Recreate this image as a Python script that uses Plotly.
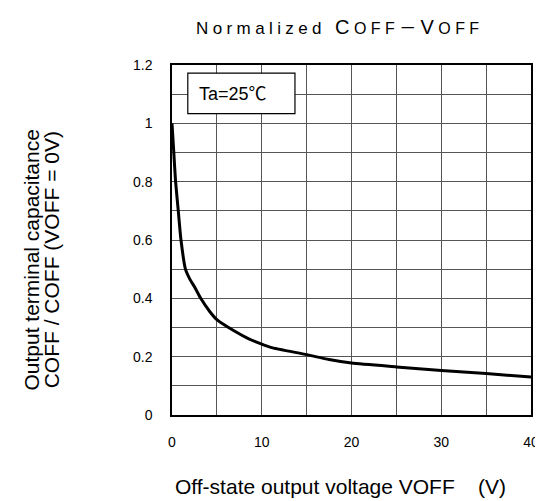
import plotly.graph_objects as go

# Data
v_off = [0, 0.2, 0.4, 0.7, 1.0, 1.5, 2.0, 2.5, 3.2, 4.2, 5, 7, 8.5, 10, 11, 15, 17.5, 20, 25, 30, 35, 40]
c_norm = [1.0, 0.9, 0.8, 0.7, 0.6, 0.5, 0.465, 0.44, 0.40, 0.355, 0.327, 0.287, 0.262, 0.243, 0.232,
          0.207, 0.19, 0.178, 0.165, 0.153, 0.142, 0.130]

FONT = "Liberation Sans, Arial, Noto Sans CJK JP, sans-serif"

fig = go.Figure()
fig.add_trace(go.Scatter(x=v_off, y=c_norm, mode="lines",
                         line=dict(color="black", width=3, shape="spline", smoothing=0.6),
                         showlegend=False, hoverinfo="skip"))

axis_common = dict(showline=True, linecolor="black", linewidth=1.5, mirror=True,
                   showgrid=True, gridcolor="#555555", gridwidth=1, zeroline=False,
                   ticks="", tickfont=dict(family=FONT, size=14, color="black"))

fig.update_xaxes(range=[0, 40], dtick=10, tick0=0, ticklabelstandoff=13,
                 minor=dict(dtick=5, showgrid=True, gridcolor="#555555", gridwidth=1),
                 **axis_common)
fig.update_yaxes(range=[0, 1.2], dtick=0.2, tick0=0, ticklabelstandoff=15,
                 minor=dict(dtick=0.1, showgrid=True, gridcolor="#555555", gridwidth=1),
                 **axis_common)

# Ta box
fig.add_shape(type="rect", xref="x", yref="y", x0=1.76, x1=13.7, y0=1.033, y1=1.172,
              line=dict(color="black", width=1.2), fillcolor="white", layer="above")
fig.add_annotation(xref="x", yref="y", x=2.75, y=1.102, xanchor="left", yanchor="middle",
                   text="Ta=25℃", showarrow=False,
                   font=dict(family=FONT, size=18, color="black"))

ls = "letter-spacing:4.4px"
title = (f'<span style="{ls}">Normalized <span style="font-size:20px">C</span>'
         f'<span style="font-size:16px">OFF</span>－<span style="font-size:20px">V</span>'
         f'<span style="font-size:16px">OFF</span></span>')
fig.add_annotation(xref="paper", yref="paper", x=(186 - 164) / 363, y=(407 - 19) / 350,
                   xanchor="left", yanchor="middle", text=title, showarrow=False,
                   font=dict(family=FONT, size=17, color="black"))

# Y-axis label (two lines)
fig.add_annotation(xref="paper", yref="paper", x=(21 - 164) / 363, y=(407 - 252) / 350,
                   xanchor="center", yanchor="middle", textangle=-90, showarrow=False,
                   text="Output terminal capacitance",
                   font=dict(family=FONT, size=21, color="black"))
fig.add_annotation(xref="paper", yref="paper", x=(42 - 164) / 363, y=(407 - 252) / 350,
                   xanchor="center", yanchor="middle", textangle=-90, showarrow=False,
                   text="COFF / COFF (VOFF = 0V)",
                   font=dict(family=FONT, size=21, color="black"))

# X-axis label
fig.add_annotation(xref="paper", yref="paper", x=(334.5 - 164) / 363, y=(407 - 478) / 350,
                   xanchor="center", yanchor="middle", showarrow=False,
                   text="Off-state output voltage VOFF\u00a0\u00a0\u00a0\u00a0(V)",
                   font=dict(family=FONT, size=21, color="black"))

fig.update_layout(width=543, height=501, margin=dict(l=164, r=16, t=57, b=94),
                  paper_bgcolor="white", plot_bgcolor="white",
                  font=dict(family=FONT, color="black"))

fig.write_html("out.html")
